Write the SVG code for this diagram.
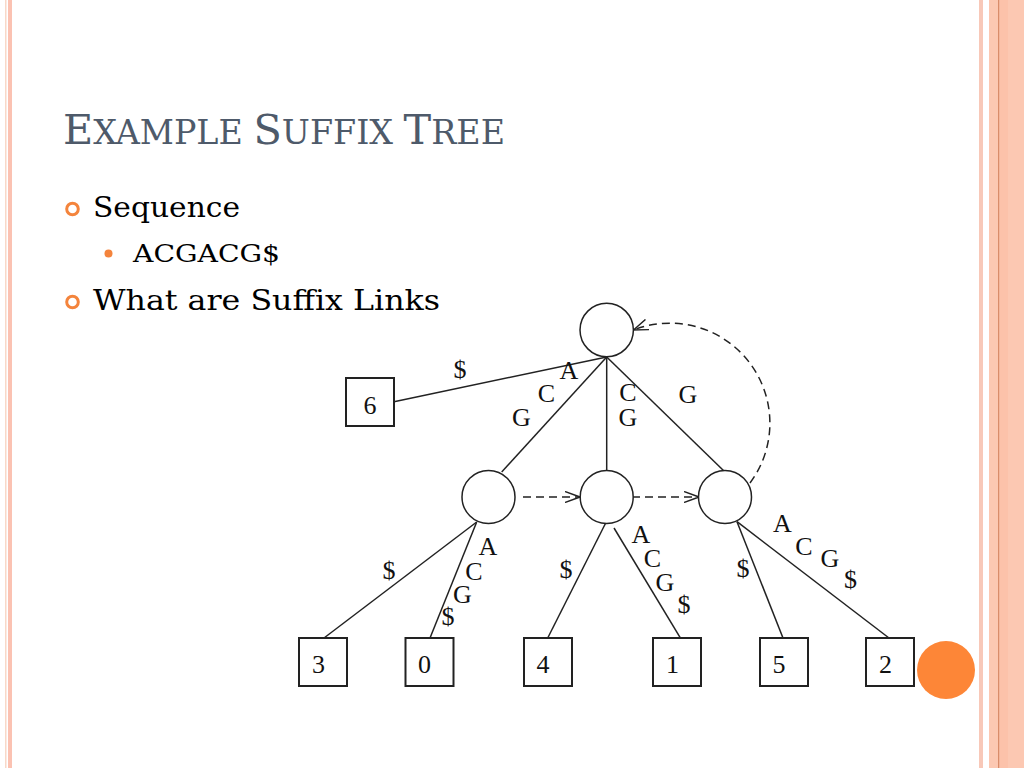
<svg xmlns="http://www.w3.org/2000/svg" width="1024" height="768" viewBox="0 0 1024 768">
<defs>
<style>
.title{font-family:"DejaVu Serif","Liberation Serif",serif;fill:#4e5a6a}
.body{font-family:"DejaVu Serif","Liberation Serif",serif;fill:#000}
.lbl{font-family:"Liberation Serif","Times New Roman",serif;font-size:26px;fill:#111;text-anchor:middle}
.node{fill:#fff;stroke:#222;stroke-width:1.5}
.leaf{fill:#fff;stroke:#222;stroke-width:2}
.edge{stroke:#222;stroke-width:1.5;fill:none}
.link{stroke:#222;stroke-width:1.5;fill:none;stroke-dasharray:8,5;marker-end:url(#chev)}
</style>
<marker id="chev" viewBox="0 0 16 12" refX="15" refY="6" markerWidth="16" markerHeight="12" markerUnits="userSpaceOnUse" orient="auto">
<path d="M0,0.5 L15,6 L0,11.5" fill="none" stroke="#222" stroke-width="1.4"/>
</marker>
</defs>
<rect width="1024" height="768" fill="#fff"/>
<g id="frame">
<rect x="5" y="0" width="1.5" height="768" fill="#f8d8c8"/>
<rect x="8" y="0" width="4" height="768" fill="#fbc2b2"/>
<rect x="979" y="0" width="4" height="768" fill="#f8c8b8"/>
<rect x="989" y="0" width="35" height="768" fill="#fcc8b2"/>
<rect x="998" y="0" width="1.5" height="768" fill="#d98c6a"/>
<rect x="999.5" y="0" width="8.5" height="768" fill="#fcc2aa"/>
<circle cx="946" cy="670" r="29" fill="#fd8637"/>
</g>
<text class="title" x="63" y="144" textLength="442" lengthAdjust="spacingAndGlyphs"><tspan font-size="41">E</tspan><tspan font-size="33">XAMPLE </tspan><tspan font-size="41">S</tspan><tspan font-size="33">UFFIX </tspan><tspan font-size="41">T</tspan><tspan font-size="33">REE</tspan></text>
<circle cx="72.5" cy="209" r="5.8" fill="none" stroke="#f4843c" stroke-width="3"/>
<text class="body" x="93" y="217" font-size="27" textLength="147" lengthAdjust="spacingAndGlyphs">Sequence</text>
<circle cx="108.5" cy="253.5" r="4" fill="#f4843c"/>
<text class="body" x="133" y="262" font-size="25" textLength="147" lengthAdjust="spacingAndGlyphs">ACGACG$</text>
<circle cx="72.5" cy="302" r="5.8" fill="none" stroke="#f4843c" stroke-width="3"/>
<text class="body" x="93" y="310" font-size="27" textLength="347" lengthAdjust="spacingAndGlyphs">What are Suffix Links</text>
<g id="connectors">
<line class="edge" x1="606.7" y1="357" x2="394" y2="401.7"/>
<line class="edge" x1="606.7" y1="357" x2="501.7" y2="472"/>
<line class="edge" x1="606.7" y1="357" x2="606.7" y2="470"/>
<line class="edge" x1="606.7" y1="357" x2="725" y2="472"/>
<line class="edge" x1="476.7" y1="522" x2="324" y2="638"/>
<line class="edge" x1="476.7" y1="522" x2="430" y2="638"/>
<line class="edge" x1="606.7" y1="521" x2="547.7" y2="638"/>
<line class="edge" x1="614" y1="528" x2="685" y2="645.7"/>
<line class="edge" x1="737" y1="521.7" x2="783" y2="638"/>
<line class="edge" x1="737" y1="521.7" x2="889" y2="638"/>
<line class="link" x1="523" y1="497" x2="580" y2="497"/>
<line class="link" x1="632" y1="497" x2="699" y2="497"/>
<path class="link" d="M750,483 A100,100 0 0 0 633.5,330"/>
<g id="edge-labels">
<text class="lbl" x="460" y="378">$</text>
<text class="lbl" x="569" y="379">A</text>
<text class="lbl" x="546.5" y="402">C</text>
<text class="lbl" x="521.5" y="426">G</text>
<text class="lbl" x="628" y="401">C</text>
<text class="lbl" x="628" y="426">G</text>
<text class="lbl" x="688" y="402.5">G</text>
<text class="lbl" x="389" y="579">$</text>
<text class="lbl" x="488" y="555">A</text>
<text class="lbl" x="474" y="580">C</text>
<text class="lbl" x="462.5" y="602.5">G</text>
<text class="lbl" x="448" y="625">$</text>
<text class="lbl" x="566" y="578">$</text>
<text class="lbl" x="641" y="543">A</text>
<text class="lbl" x="652.5" y="567">C</text>
<text class="lbl" x="665" y="591">G</text>
<text class="lbl" x="684" y="613">$</text>
<text class="lbl" x="743" y="577">$</text>
<text class="lbl" x="782.5" y="531.5">A</text>
<text class="lbl" x="804" y="555">C</text>
<text class="lbl" x="830" y="566.5">G</text>
<text class="lbl" x="850.5" y="588">$</text>
</g>
</g>
<g id="root"><circle class="node" cx="606.7" cy="330" r="26.7"/></g>
<g id="n-left"><circle class="node" cx="488.5" cy="497" r="26.5"/></g>
<g id="n-mid"><circle class="node" cx="606.7" cy="497" r="26.5"/></g>
<g id="n-right"><circle class="node" cx="725" cy="497" r="26.5"/></g>
<g id="leaf6"><rect class="leaf" x="346" y="378" width="48" height="48"/><text class="lbl" x="370" y="414">6</text></g>
<g id="leaf3"><rect class="leaf" x="299" y="638" width="48" height="48"/><text class="lbl" x="318.5" y="673">3</text></g>
<g id="leaf0"><rect class="leaf" x="405.5" y="638" width="48" height="48"/><text class="lbl" x="424.5" y="673">0</text></g>
<g id="leaf4"><rect class="leaf" x="524" y="638" width="48" height="48"/><text class="lbl" x="543" y="673">4</text></g>
<g id="leaf1"><rect class="leaf" x="653" y="638" width="48" height="48"/><text class="lbl" x="672.5" y="673">1</text></g>
<g id="leaf5"><rect class="leaf" x="760" y="638" width="48" height="48"/><text class="lbl" x="779" y="673">5</text></g>
<g id="leaf2"><rect class="leaf" x="866" y="638" width="48" height="48"/><text class="lbl" x="885.5" y="673">2</text></g>
</svg>
